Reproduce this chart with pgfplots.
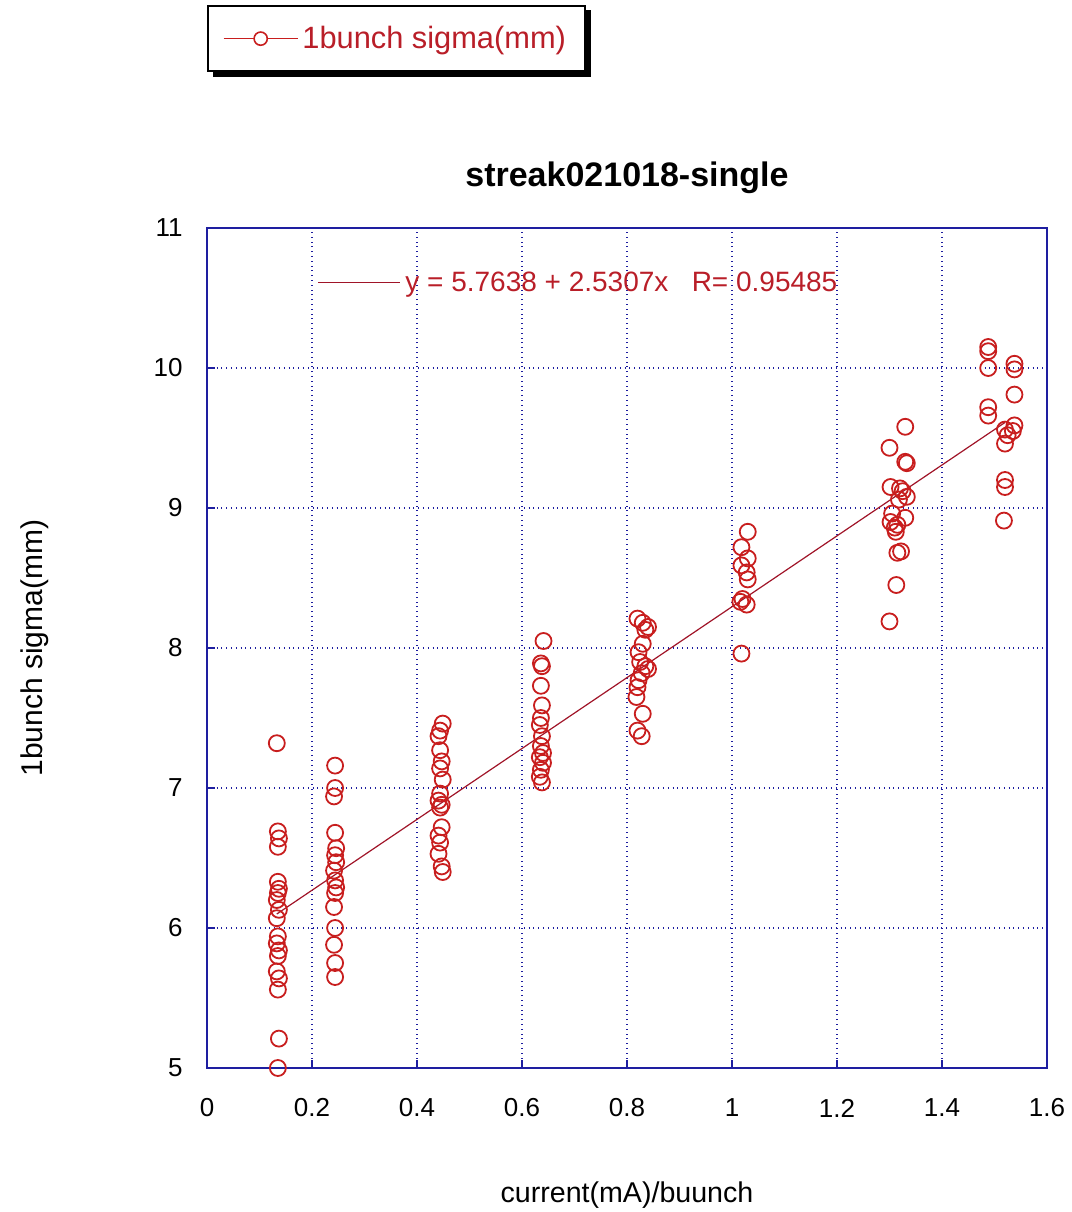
\documentclass[border=0pt]{standalone}
\usepackage{pgfplots}
\pgfplotsset{compat=1.18}
\usepackage{fontspec}
\setmainfont{Liberation Sans}
\definecolor{mred}{RGB}{200,30,30}
\definecolor{navyb}{RGB}{30,30,160}
\definecolor{fitc}{RGB}{160,20,40}
\definecolor{txtred}{RGB}{185,30,40}
\begin{document}
\begin{tikzpicture}
\useasboundingbox (-103.5pt,-72pt) rectangle (432.5pt,534pt);
\fill[black] (3pt,495.5pt) rectangle (192pt,529pt);
\begin{axis}[
  at={(0,0)}, anchor=south west,
  scale only axis, width=420pt, height=420pt,
  xmin=0, xmax=1.6, ymin=5, ymax=11,
  xtick={0,0.2,...,1.6}, ytick={5,6,...,11},
  xticklabels={0,0.2,0.4,0.6,0.8,1,1.2,1.4,1.6},
  /pgf/number format/assume math mode=true,
  tick pos=left, tick align=inside, major tick length=4pt,
  tick style={navyb, line width=0.8pt},
  axis line style={navyb, line width=1pt},
  grid=major,
  grid style={navyb, dotted, line width=0.8pt},
  ticklabel style={font=\fontsize{13}{15}\selectfont},
  xticklabel style={anchor=center, yshift=-20pt},
  yticklabel style={anchor=east, inner sep=0pt, xshift=-12pt},
  title={\bfseries streak021018-single},
  title style={at={(0.5,1.0451)}, anchor=center, font=\fontsize{17}{19}\selectfont},
  xlabel={current(mA)/buunch},
  ylabel={1bunch sigma(mm)},
  xlabel style={at={(0.5,-0.151)}, anchor=center, font=\fontsize{14.3}{16}\selectfont},
  ylabel style={at={(-0.205,0.5)}, anchor=center, rotate=0, font=\fontsize{15}{17}\selectfont},
  legend style={at={(0,1.2655)}, anchor=north west, draw=black, line width=1pt,
    font=\fontsize{15.4}{17}\selectfont, text=txtred, fill=white,
    inner xsep=7.5pt, inner ysep=8pt},
  legend cell align=left,
]
\addplot[only marks, mark=o, mark size=4pt, mred, line width=0.9pt,
  legend image code/.code={\draw[mred, line width=0.7pt] (0pt,0pt) -- (37pt,0pt);
    \draw[mred, line width=0.8pt, fill=white] (18.5pt,0pt) circle (3.3pt);}]
coordinates {
(0.133,7.32) (0.135,6.69) (0.137,6.64) (0.135,6.58) (0.135,6.33) (0.137,6.28) (0.135,6.25)
(0.133,6.20) (0.137,6.13) (0.133,6.07) (0.135,5.94) (0.133,5.89) (0.137,5.84) (0.135,5.80)
(0.133,5.69) (0.137,5.64) (0.135,5.56) (0.137,5.21) (0.135,5.00)
(0.244,7.16) (0.244,7.00) (0.242,6.94) (0.244,6.68) (0.246,6.57) (0.244,6.52) (0.246,6.47)
(0.242,6.41) (0.244,6.34) (0.246,6.29) (0.244,6.25) (0.242,6.15) (0.244,6.00) (0.242,5.88)
(0.244,5.75) (0.244,5.65)
(0.449,7.46) (0.444,7.41) (0.441,7.37) (0.444,7.27) (0.447,7.19) (0.444,7.14) (0.449,7.06)
(0.444,6.96) (0.441,6.91) (0.447,6.88) (0.444,6.86) (0.447,6.72) (0.441,6.66) (0.444,6.61)
(0.441,6.53) (0.447,6.44) (0.449,6.40)
(0.641,8.05) (0.636,7.89) (0.638,7.87) (0.636,7.73) (0.638,7.59) (0.636,7.50) (0.634,7.45)
(0.638,7.37) (0.636,7.30) (0.640,7.25) (0.634,7.22) (0.640,7.18) (0.636,7.13) (0.634,7.08)
(0.638,7.04)
(0.820,8.21) (0.830,8.18) (0.840,8.15) (0.835,8.13) (0.830,8.03) (0.822,7.97) (0.825,7.90)
(0.835,7.87) (0.840,7.85) (0.828,7.82) (0.822,7.77) (0.820,7.72) (0.818,7.65) (0.830,7.53)
(0.820,7.41) (0.828,7.37)
(1.030,8.83) (1.018,8.72) (1.030,8.64) (1.018,8.59) (1.028,8.54) (1.030,8.49) (1.020,8.35)
(1.016,8.33) (1.028,8.31) (1.018,7.96)
(1.330,9.58) (1.300,9.43) (1.330,9.33) (1.333,9.32) (1.302,9.15) (1.320,9.14) (1.325,9.12)
(1.333,9.08) (1.318,9.06) (1.305,8.96) (1.330,8.93) (1.302,8.90) (1.315,8.88) (1.310,8.86)
(1.312,8.83) (1.322,8.69) (1.315,8.68) (1.313,8.45) (1.300,8.19)
(1.488,10.15) (1.488,10.12) (1.538,10.03) (1.488,10.00) (1.538,9.99) (1.538,9.81) (1.488,9.72)
(1.488,9.66) (1.538,9.59) (1.520,9.56) (1.535,9.55) (1.525,9.52) (1.520,9.46) (1.520,9.20)
(1.520,9.15) (1.518,8.91)
};
\addlegendentry{1bunch sigma(mm)}
\addplot[fitc, line width=0.6pt, forget plot] coordinates {(0.133,6.100) (1.52,9.611)};
\node[anchor=west, inner sep=0pt, text=txtred, font=\fontsize{14}{16}\selectfont]
  at (axis cs:0.2114,10.593) {\textcolor{fitc}{\rule[0.3em]{41pt}{0.6pt}}\hspace{2.5pt}y = 5.7638 + 2.5307x\ \ \ R= 0.95485};
\end{axis}
\end{tikzpicture}
\end{document}
